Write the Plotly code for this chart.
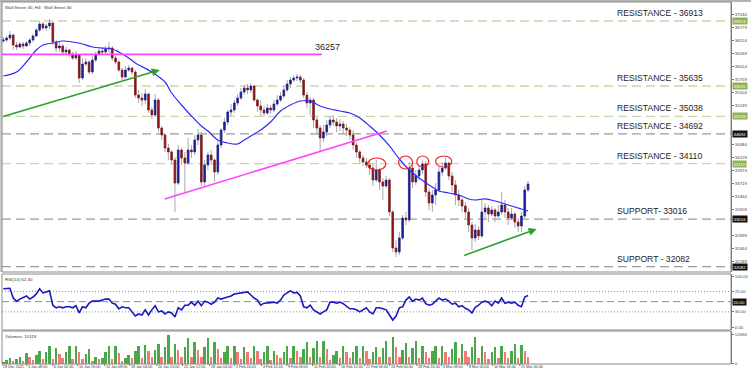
import plotly.graph_objects as go

# ---------------- data ----------------
first_open = 36520
closes = [
    36540, 36579, 36638, 36441, 36402, 36461, 36422, 36481, 36540, 36618,
    36736, 36854, 36776, 36815, 36874, 36500, 36382, 36422, 36304, 36343,
    36264, 36186, 36245, 35792, 36068, 36107, 35910, 36146, 36264, 36323,
    36304, 36363, 36382, 36186, 36107, 35950, 35812, 35950, 35989, 35910,
    35458, 35399, 35360, 35478, 35163, 35065, 35360, 34810, 34672, 34416,
    34338, 34180, 33728, 34377, 34220, 34121, 34377, 34338, 34574, 34672,
    33748, 34082, 34279, 34180, 33944, 34475, 34770, 34927, 35124, 35163,
    35301, 35399, 35517, 35596, 35557, 35635, 35360, 35242, 35163, 35104,
    35203, 35163, 35281, 35360, 35439, 35557, 35675, 35753, 35792, 35812,
    35753, 35458, 35301, 35360, 34967, 34810, 34613, 34731, 34868, 34967,
    34927, 34849, 34888, 34810, 34770, 34672, 34475, 34338, 34220, 34141,
    34082, 34023, 33787, 33984, 33748, 33669, 33787, 33158, 32450, 32372,
    32647, 33040, 33001, 34023, 33748, 33866, 33984, 34102, 33551, 33335,
    33492, 33591, 33944, 34023, 34121, 33866, 33689, 33492, 33394, 33276,
    33158, 32902, 32647, 32804, 32686, 33158, 33237, 33118, 33197, 33079,
    33158, 33296, 33158, 33040, 33118, 32961, 32883, 33079, 33591, 33709,
]
highs = [
    36599, 36618, 36717, 36658, 36500, 36500, 36500, 36520, 36579, 36658,
    36776, 36913, 36893, 36854, 36952, 36893, 36540, 36500, 36461, 36402,
    36363, 36304, 36323, 36245, 36186, 36186, 36146, 36225, 36304, 36382,
    36402, 36422, 36500, 36422, 36225, 36146, 35989, 36028, 36048, 36009,
    35950, 35557, 35498, 35576, 35498, 35222, 35478, 35399, 34849, 34692,
    34495, 34377, 34239, 34475, 34416, 34338, 34613, 34475, 34672, 34790,
    34731, 34180, 34338, 34377, 34220, 34574, 34810, 35006, 35163, 35281,
    35360, 35478, 35596, 35655, 35675, 35694, 35655, 35399, 35360, 35242,
    35281, 35262, 35360, 35458, 35517, 35635, 35753, 35812, 35851, 35871,
    35851, 35792, 35517, 35419, 35399, 35026, 34868, 34868, 34967, 35045,
    35065, 35006, 34986, 34947, 34888, 34829, 34770, 34534, 34377, 34279,
    34220, 34180, 34102, 34180, 34023, 33826, 33866, 33826, 33197, 32607,
    32765, 33099, 33158, 34141, 34082, 33984, 34062, 34180, 34161, 33630,
    33591, 33728, 34062, 34141, 34220, 34141, 33944, 33787, 33591, 33433,
    33355, 33237, 32961, 32922, 32883, 33394, 33335, 33296, 33276, 33237,
    33296, 33551, 33394, 33237, 33237, 33158, 33040, 33158, 33669, 33767,
]
lows = [
    36481, 36500, 36540, 36343, 36343, 36382, 36363, 36402, 36422, 36500,
    36599, 36697, 36736, 36717, 36756, 36441, 36304, 36304, 36245, 36264,
    36205, 36146, 36146, 35694, 35753, 36028, 35871, 35871, 36107, 36245,
    36245, 36264, 36284, 36127, 36068, 35910, 35753, 35792, 35910, 35851,
    35399, 35301, 35242, 35281, 35104, 34986, 35026, 34731, 34574, 34338,
    34180, 34082, 33158, 33689, 34082, 33551, 34082, 34220, 34279, 34475,
    33669, 33669, 33984, 34082, 33748, 33885, 34416, 34711, 34868, 35045,
    35104, 35242, 35360, 35458, 35478, 35498, 35321, 35124, 35045, 35026,
    35065, 35085, 35124, 35242, 35321, 35399, 35517, 35596, 35714, 35734,
    35694, 35399, 35203, 35065, 34810, 34672, 34338, 34534, 34652, 34810,
    34849, 34731, 34751, 34692, 34652, 34574, 34377, 34220, 34121, 34062,
    34023, 33885, 33669, 33748, 33591, 33394, 33630, 33079, 32372, 32273,
    32313, 32607, 32902, 32961, 33630, 33689, 33787, 33905, 33453, 33197,
    33158, 33296, 33551, 33866, 33984, 33787, 33551, 33296, 33276, 33158,
    33040, 32765, 32411, 32568, 32607, 32647, 33040, 32961, 33079, 32961,
    33040, 33099, 33040, 32902, 33001, 32843, 32765, 32765, 33040, 33551,
]

ma_bars = [0, 4, 7, 10, 12, 15, 18, 21, 24, 27, 30, 33, 35, 38, 40, 45, 49, 51, 54, 57,
           60, 62, 65, 68, 71, 73, 75, 78, 81, 84, 87, 90, 93, 96, 99, 102, 105, 108, 111, 114,
           117, 120, 123, 126, 129, 132, 135, 138, 141, 143, 146, 149, 152, 155, 157, 159]
ma_vals = [35832, 35910, 36107, 36343, 36441, 36481, 36520, 36500, 36461, 36402,
           36382, 36363, 36304, 36186, 36087, 35910, 35714, 35498, 35262, 35045,
           34849, 34751, 34574, 34515, 34495, 34574, 34652, 34770, 34927, 35144,
           35262, 35340, 35340, 35242, 35183, 35144, 35104, 35006, 34849, 34672,
           34456, 34200, 33984, 33826, 33689, 33571, 33532, 33492, 33414, 33394,
           33414, 33374, 33316, 33257, 33217, 33178]

rsi = [75, 76, 76, 57, 51, 55, 58, 61, 55, 59,
       65, 75, 67, 69, 71, 43, 38, 40, 38, 40,
       40, 38, 42, 28, 40, 38, 47, 51, 51, 51,
       53, 55, 55, 47, 45, 36, 40, 38, 38, 30,
       22, 26, 24, 34, 24, 34, 42, 30, 32, 26,
       30, 28, 20, 38, 34, 43, 43, 49, 43, 51,
       42, 51, 49, 45, 49, 57, 55, 57, 59, 61,
       65, 66, 67, 68, 69, 63, 57, 53, 43, 47,
       47, 48, 49, 47, 53, 63, 67, 71, 67, 68,
       61, 40, 38, 43, 34, 30, 26, 30, 34, 49,
       49, 47, 49, 46, 41, 36, 36, 34, 30, 34,
       38, 30, 26, 38, 38, 36, 34, 24, 14, 22,
       38, 40, 53, 59, 51, 55, 53, 57, 46, 43,
       45, 51, 57, 53, 55, 51, 45, 47, 40, 42,
       37, 34, 28, 39, 43, 49, 51, 49, 42, 51,
       47, 57, 47, 49, 47, 49, 43, 40, 59, 62]

volumes = [
    800, 1400, 2200, 1000, 1800, 2700, 1200, 4400, 3000, 1400, 3500, 5300,
    2000, 4800, 7500, 1800, 6600, 4000, 2200, 5000, 7500, 2000, 7500, 4800,
    1800, 4000, 6200, 1000, 2700, 1800, 2200, 5000, 7500, 2000, 7500, 4500,
    1000, 2200, 3500, 2200, 5200, 7500, 2400, 8000, 5500, 2600, 5800, 8400,
    3000, 7000, 12400, 2800, 8400, 6000, 3000, 7200, 11000, 2600, 9300, 6000,
    3000, 7000, 11000, 2800, 9300, 6200, 2200, 5000, 7500, 2200, 7500, 5000,
    2000, 7100, 4800, 2200, 7500, 5200, 2000, 4800, 7500, 1600, 5300, 3500,
    2200, 5000, 7500, 2400, 7500, 5200, 2600, 6200, 9300, 2800, 6600, 9700,
    2600, 9700, 6400, 1600, 3500, 5300, 2200, 7500, 5000, 2200, 5000, 7500,
    2400, 7500, 5200, 2000, 4800, 7100, 2800, 6600, 9700, 3000, 11500, 7200,
    2600, 6000, 8800, 2800, 6600, 9700, 2200, 7500, 5000, 2200, 5200, 7500,
    2200, 7500, 5000, 2600, 6200, 9300, 2400, 8400, 5600, 3000, 7000, 11500,
    2200, 7500, 5000, 2000, 4800, 7100, 2200, 7500, 5000, 2400, 5600, 8400,
    2400, 8000, 5200, 2700,
]

resistance_levels = [36913, 35635, 35038, 34692, 34110]
resistance_style = ["green", "green", "green", "gray", "green"]
support_levels = [33016, 32082]
key_level = 36257

price_ticks = [37289, 37034, 36779, 36524, 36269, 36014, 35759, 35504, 35249,
               34484, 34229, 33974, 33719, 33464, 33209, 32699, 32444, 32189]
rsi_ticks = [100, 70, 30, 0]
rsi_ticktext = ["100.00", "70.00", "30.00", "0.00"]
vol_ticks = [0, 12690]

date_labels = ["29 Dec 2021", "3 Jan 08:00", "6 Jan 00:00", "10 Jan 16:00", "13 Jan 08:00",
               "18 Jan 04:00", "20 Jan 20:00", "25 Jan 12:00", "28 Jan 04:00", "1 Feb 20:00",
               "4 Feb 12:00", "9 Feb 04:00", "11 Feb 20:00", "16 Feb 12:00", "21 Feb 04:00",
               "24 Feb 00:00", "28 Feb 16:00", "3 Mar 08:00", "8 Mar 00:00", "10 Mar 16:00",
               "15 Mar 00:00"]
date_label_bars = [-0.4, 7.1, 15, 22.5, 30.7, 38.3, 46.5, 54.3, 62.5, 70.1, 78.3, 85.9,
                   93.7, 101.9, 109.5, 117.1, 125.3, 132.8, 140.7, 148.3, 156.5]

# drawings (bar index, price)
green_arrows = [((-0.5, 35026), (47.4, 35950)), ((139.2, 32293), (161.6, 32824))]
magenta_trend = ((48.9, 33414), (116.2, 34751))
key_level_end_bar = 96.5
red_circles = [(110.4, 115.9, 33984, 34220), (119.8, 124.0, 34003, 34259),
               (125.3, 128.9, 34043, 34259), (131.0, 135.9, 34043, 34259)]

# ---------------- derived ----------------
bars = list(range(len(closes)))
opens = [first_open] + closes[:-1]
body_hi = [max(o, c) for o, c in zip(opens, closes)]
body_lo = [min(o, c) for o, c in zip(opens, closes)]
vol_colors = ["#4aa84a" if i == 0 or volumes[i] > volumes[i - 1] else "#f07a7a"
              for i in range(len(volumes))]

FONT = "Liberation Sans, Arial, sans-serif"
W, H = 751, 372
ML, MR, MT, MB = 2, 20, 2, 8
PH = H - MT - MB


def dom(top_px, bot_px):
    return [(H - MB - bot_px) / PH, (H - MB - top_px) / PH]


price_dom = dom(2, 272)
rsi_dom = dom(274, 330)
vol_dom = dom(331, 364)
XR = [-0.4, 220.5]

fig = go.Figure()

fig.add_trace(go.Candlestick(
    x=bars, open=opens, high=highs, low=lows, close=closes,
    increasing=dict(line=dict(color="#a9a9a9", width=1), fillcolor="#a9a9a9"),
    decreasing=dict(line=dict(color="#a9a9a9", width=1), fillcolor="#a9a9a9"),
    hoverinfo="skip", showlegend=False, xaxis="x", yaxis="y"))
fig.add_trace(go.Candlestick(
    x=bars, open=opens, high=body_hi, low=body_lo, close=closes,
    increasing=dict(line=dict(color="#1c1c9a", width=0.6), fillcolor="#1c1c9a"),
    decreasing=dict(line=dict(color="#8a1414", width=0.6), fillcolor="#8a1414"),
    hoverinfo="skip", showlegend=False, xaxis="x", yaxis="y"))
fig.add_trace(go.Scatter(
    x=ma_bars, y=ma_vals, mode="lines", line=dict(color="#2b2bff", width=1.2, shape="spline"),
    hoverinfo="skip", showlegend=False, xaxis="x", yaxis="y"))
fig.add_trace(go.Scatter(
    x=bars, y=rsi, mode="lines", line=dict(color="#1a1ac0", width=1.6),
    hoverinfo="skip", showlegend=False, xaxis="x2", yaxis="y2"))
fig.add_trace(go.Bar(
    x=bars, y=volumes, marker=dict(color=vol_colors, line=dict(width=0)), width=0.75,
    hoverinfo="skip", showlegend=False, xaxis="x3", yaxis="y3"))

xcommon = dict(range=XR, domain=[0, 1], showgrid=False, zeroline=False,
               showticklabels=False, ticks="", showline=False, fixedrange=True)
ycommon = dict(side="right", showgrid=False, zeroline=False, ticks="outside", ticklen=2,
               tickcolor="#777", tickwidth=1, showline=True, linecolor="#777", linewidth=1,
               automargin=False,
               tickfont=dict(size=4.3, color="#444", family=FONT), fixedrange=True)

fig.update_layout(
    width=W, height=H, margin=dict(l=ML, r=MR, t=MT, b=MB, autoexpand=False),
    paper_bgcolor="white", plot_bgcolor="white", showlegend=False,
    bargap=0, boxgap=0.3,
    xaxis=dict(anchor="y", rangeslider=dict(visible=False), **xcommon),
    xaxis2=dict(anchor="y2", **xcommon),
    xaxis3=dict(anchor="y3", **xcommon),
    yaxis=dict(anchor="x", domain=price_dom, range=[31978, 37287], tickvals=price_ticks,
               ticktext=[str(v) for v in price_ticks], **ycommon),
    yaxis2=dict(anchor="x2", domain=rsi_dom, range=[-5.3, 103.9], tickvals=rsi_ticks,
                ticktext=rsi_ticktext, **ycommon),
    yaxis3=dict(anchor="x3", domain=vol_dom, range=[-200, 14000], tickvals=vol_ticks,
                ticktext=[str(v) for v in vol_ticks], **ycommon),
)

shapes = []
annotations = []
GREEN_DASH = "#c9d5ab"
GRAY_DASH = "#9c9c9c"

# window strips
shapes.append(dict(type="rect", xref="paper", yref="paper", x0=-ML / 729, x1=1 + MR / 729,
                   y0=1, y1=1 + MT / PH, fillcolor="#b4b4b4", line=dict(width=0), layer="above"))
shapes.append(dict(type="rect", xref="paper", yref="paper", x0=-ML / 729, x1=0,
                   y0=price_dom[0], y1=1, fillcolor="#cccccc", line=dict(width=0), layer="above"))

# panel borders
for d in (price_dom, rsi_dom, vol_dom):
    shapes.append(dict(type="rect", xref="paper", yref="paper", x0=0, x1=1, y0=d[0], y1=d[1],
                       line=dict(color="#8a8a8a", width=1), fillcolor="rgba(0,0,0,0)", layer="above"))

# level lines + labels
levels = [(lv, st, "RESISTANCE - %d" % lv) for lv, st in zip(resistance_levels, resistance_style)]
levels += [(support_levels[0], "gray", "SUPPORT- %d" % support_levels[0]),
           (support_levels[1], "gray", "SUPPORT - %d" % support_levels[1])]
for lv, st, label in levels:
    col = GREEN_DASH if st == "green" else GRAY_DASH
    shapes.append(dict(type="line", xref="paper", yref="y", x0=0, x1=1, y0=lv, y1=lv,
                       line=dict(color=col, width=1.3, dash="9px,5px"), layer="below"))
    annotations.append(dict(xref="x", yref="y", x=185.3, y=lv, text=label, showarrow=False,
                            xanchor="left", yanchor="bottom", yshift=1,
                            font=dict(size=8.6, color="#1e1e1e", family=FONT)))
    annotations.append(dict(xref="paper", yref="y", x=1, y=lv, text=str(lv), showarrow=False,
                            xanchor="left", yanchor="middle", xshift=1,
                            bgcolor="#8db255" if st == "green" else "#111111", borderpad=0.6,
                            font=dict(size=4.3, color="white", family=FONT)))

# key magenta level
shapes.append(dict(type="line", xref="x", yref="y", x0=XR[0], x1=key_level_end_bar,
                   y0=key_level, y1=key_level, line=dict(color="#ff44ff", width=1.6)))
annotations.append(dict(xref="x", yref="y", x=93.7, y=key_level, text=str(key_level),
                        showarrow=False, xanchor="left", yanchor="bottom", yshift=0,
                        font=dict(size=9, color="#1e1e1e", family=FONT)))

# magenta trend line
(tx0, ty0), (tx1, ty1) = magenta_trend
shapes.append(dict(type="line", xref="x", yref="y", x0=tx0, y0=ty0, x1=tx1, y1=ty1,
                   line=dict(color="#ff44ff", width=1.6)))

# red circles
for x0, x1, y0, y1 in red_circles:
    shapes.append(dict(type="circle", xref="x", yref="y", x0=x0, x1=x1, y0=y0, y1=y1,
                       line=dict(color="#f02020", width=1.2)))

# green arrows
for (ax, ay), (hx, hy) in green_arrows:
    annotations.append(dict(xref="x", yref="y", axref="x", ayref="y", x=hx, y=hy, ax=ax, ay=ay,
                            text="", showarrow=True, arrowhead=2, arrowsize=1, arrowwidth=1.6,
                            arrowcolor="#2f9e2f", standoff=0, startstandoff=0))

# RSI levels
for lv, dash in ((70, "1px,2px"), (50, "7px,4px"), (30, "1px,2px")):
    shapes.append(dict(type="line", xref="paper", yref="y2", x0=0, x1=1, y0=lv, y1=lv,
                       line=dict(color="#8c8c8c", width=1, dash=dash), layer="below"))
annotations.append(dict(xref="paper", yref="y2", x=1, y=50, text="50.00", showarrow=False,
                        xanchor="left", yanchor="middle", xshift=1, bgcolor="#111111",
                        borderpad=0.6, font=dict(size=4.3, color="white", family=FONT)))

# panel titles
annotations.append(dict(xref="paper", yref="paper", x=0, y=1, xanchor="left", yanchor="top",
                        xshift=1, yshift=-1, showarrow=False,
                        text="Wall Street 30, H4:  Wall Street 30",
                        font=dict(size=4.4, color="#333", family=FONT)))
annotations.append(dict(xref="paper", yref="y2 domain", x=0, y=1, xanchor="left", yanchor="top",
                        xshift=1, yshift=-1, showarrow=False, text="RSI(14) 62.40",
                        font=dict(size=4.4, color="#333", family=FONT)))
annotations.append(dict(xref="paper", yref="y3 domain", x=0, y=1, xanchor="left", yanchor="top",
                        xshift=1, yshift=-1, showarrow=False, text="Volumes: 10119",
                        font=dict(size=4.4, color="#333", family=FONT)))

# date labels
for lab, b in zip(date_labels, date_label_bars):
    annotations.append(dict(xref="x", yref="paper", x=b, y=0, text=lab, showarrow=False,
                            xanchor="left", yanchor="top", yshift=0, borderpad=0,
                            font=dict(size=3.7, color="#333", family=FONT)))
    shapes.append(dict(type="line", xref="x", yref="paper", x0=b, x1=b,
                       y0=0, y1=-2 / PH, line=dict(color="#777", width=1)))

fig.update_layout(shapes=shapes, annotations=annotations)
fig.write_html("out.html", config={"displayModeBar": False},
               post_script="document.body.style.margin='0';document.body.style.overflow='hidden';")
